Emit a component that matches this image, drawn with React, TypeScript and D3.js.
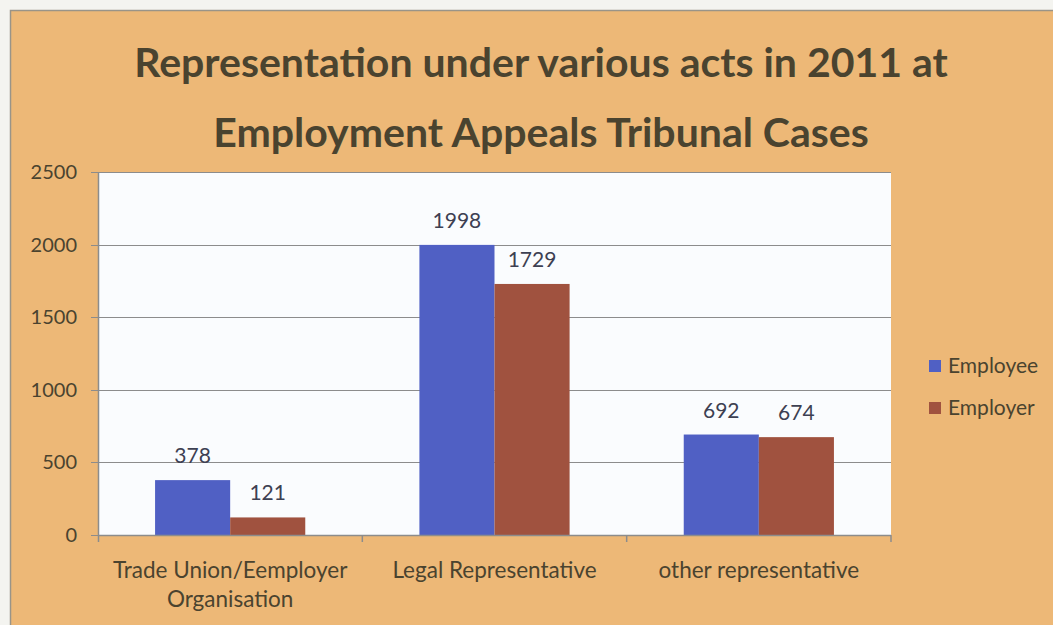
import React, { useEffect, useRef } from "react";
import * as d3 from "d3";

const categories = ["Trade Union/Eemployer Organisation", "Legal Representative", "other representative"];
const seriesNames = ["Employee", "Employer"];
const employee = [378, 1998, 692];
const employer = [121, 1729, 674];
const yTicks = [0, 500, 1000, 1500, 2000, 2500];
const titleLines = ["Representation under various acts in 2011 at", "Employment Appeals Tribunal Cases"];

export default function App() {
  const svgRef = useRef<SVGSVGElement>(null);

  useEffect(() => {
    const w = 1053;
    const h = 625;
    const svg = d3.select(svgRef.current);
    svg.selectAll("*").remove();

    const font = "Lato, 'Open Sans', sans-serif";
    const textCol = "#4a432f";
    const colors = ["#5060c4", "#a0523f"];

    // background + frame
    svg.append("rect").attr("width", w).attr("height", h).attr("fill", "#f4f4f0");
    svg.append("rect")
      .attr("x", 10.5).attr("y", 10.5)
      .attr("width", w).attr("height", h)
      .attr("fill", "#edb877")
      .attr("stroke", "#9a9488")
      .attr("stroke-width", 1.5);

    // title
    svg.append("g").selectAll("text")
      .data(titleLines)
      .join("text")
      .attr("x", 541)
      .attr("y", (d, i) => 77 + i * 70)
      .attr("text-anchor", "middle")
      .attr("font-family", font)
      .attr("font-weight", "bold")
      .attr("font-size", 41)
      .attr("fill", textCol)
      .text((d) => d);

    const plot = { left: 98, right: 891, top: 172, bottom: 535 };

    const x0 = d3.scaleBand().domain(categories).range([plot.left, plot.right]).paddingInner(0).paddingOuter(0);
    const x1 = d3.scaleBand().domain(seriesNames).range([0, x0.bandwidth()]).paddingInner(0).paddingOuter(0.76);
    const y = d3.scaleLinear().domain([0, 2500]).range([plot.bottom, plot.top]);

    svg.append("rect")
      .attr("x", plot.left).attr("y", plot.top)
      .attr("width", plot.right - plot.left).attr("height", plot.bottom - plot.top)
      .attr("fill", "#fafcfe");

    // gridlines
    svg.append("g").selectAll("line")
      .data(yTicks)
      .join("line")
      .attr("x1", plot.left - 7).attr("x2", plot.right)
      .attr("y1", (d) => Math.round(y(d)) + 0.5).attr("y2", (d) => Math.round(y(d)) + 0.5)
      .attr("stroke", "#8c8c8c")
      .attr("stroke-width", 1.2);

    // y tick labels
    svg.append("g").selectAll("text")
      .data(yTicks)
      .join("text")
      .attr("x", 77)
      .attr("y", (d) => y(d) + 7)
      .attr("text-anchor", "end")
      .attr("font-family", font)
      .attr("font-size", 20)
      .attr("fill", textCol)
      .text((d) => d);

    // bars
    const data = categories.map((c, i) => ({ c, vals: [employee[i], employer[i]] }));
    const groups = svg.append("g").selectAll("g")
      .data(data)
      .join("g")
      .attr("transform", (d) => `translate(${x0(d.c)},0)`);

    groups.selectAll("rect")
      .data((d) => d.vals.map((v, k) => ({ v, k })))
      .join("rect")
      .attr("x", (d) => x1(seriesNames[d.k]) as number)
      .attr("width", x1.bandwidth())
      .attr("y", (d) => y(d.v))
      .attr("height", (d) => plot.bottom - y(d.v))
      .attr("fill", (d) => colors[d.k]);

    groups.selectAll("text")
      .data((d) => d.vals.map((v, k) => ({ v, k })))
      .join("text")
      .attr("x", (d) => (x1(seriesNames[d.k]) as number) + x1.bandwidth() / 2)
      .attr("y", (d) => y(d.v) - 17)
      .attr("text-anchor", "middle")
      .attr("font-family", font)
      .attr("font-size", 21)
      .attr("fill", "#3d4052")
      .text((d) => d.v);

    // axes lines
    svg.append("line")
      .attr("x1", plot.left + 0.5).attr("x2", plot.left + 0.5)
      .attr("y1", plot.top).attr("y2", plot.bottom + 7)
      .attr("stroke", "#8c8c8c").attr("stroke-width", 1.5);
    svg.append("line")
      .attr("x1", plot.left).attr("x2", plot.right)
      .attr("y1", plot.bottom + 0.5).attr("y2", plot.bottom + 0.5)
      .attr("stroke", "#8c8c8c").attr("stroke-width", 1.5);
    svg.append("g").selectAll("line")
      .data(categories)
      .join("line")
      .attr("x1", (d) => (x0(d) as number) + x0.bandwidth())
      .attr("x2", (d) => (x0(d) as number) + x0.bandwidth())
      .attr("y1", plot.bottom).attr("y2", plot.bottom + 7)
      .attr("stroke", "#8c8c8c").attr("stroke-width", 1.5);

    // category labels
    const catLines = [["Trade Union/Eemployer", "Organisation"], ["Legal Representative"], ["other representative"]];
    const cat = svg.append("g").selectAll("text")
      .data(categories)
      .join("text")
      .attr("x", (d) => (x0(d) as number) + x0.bandwidth() / 2)
      .attr("y", 578)
      .attr("text-anchor", "middle")
      .attr("font-family", font)
      .attr("font-size", 22.5)
      .attr("fill", textCol);
    cat.selectAll("tspan")
      .data((d, i) => catLines[i])
      .join("tspan")
      .attr("x", function () { return (this.parentNode as SVGTextElement).getAttribute("x"); })
      .attr("dy", (d, i) => (i === 0 ? 0 : 29))
      .text((d) => d);

    // legend
    const leg = svg.append("g").selectAll("g")
      .data(seriesNames)
      .join("g")
      .attr("transform", (d, i) => `translate(929,${360 + i * 42})`);
    leg.append("rect").attr("width", 12).attr("height", 12).attr("fill", (d, i) => colors[i]);
    leg.append("text")
      .attr("x", 19).attr("y", 13)
      .attr("font-family", font)
      .attr("font-size", 21)
      .attr("fill", textCol)
      .text((d) => d);
  }, []);

  return (
    <svg ref={svgRef} width={1053} height={625} style={{ position: "absolute", left: 0, top: 0 }} />
  );
}
